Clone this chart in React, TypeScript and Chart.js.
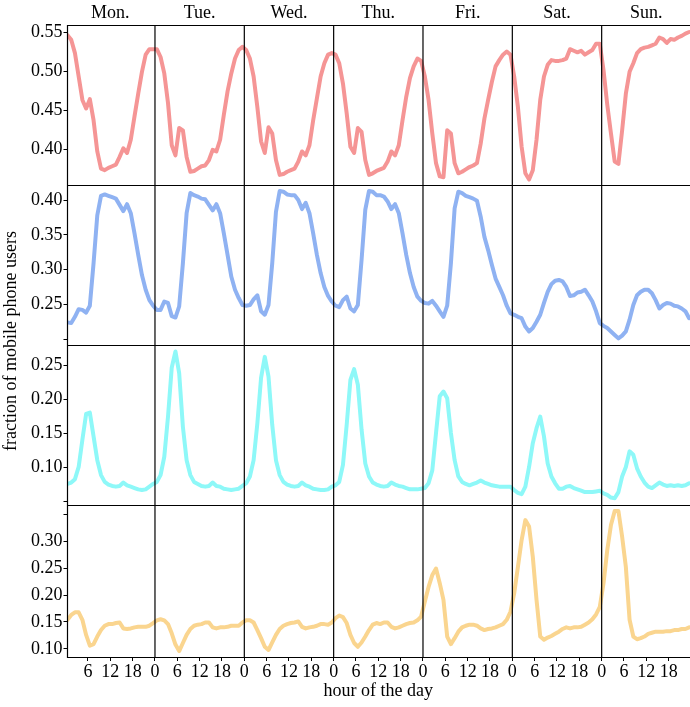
import React, { useEffect, useRef } from 'react';
import { Chart, registerables } from 'chart.js';

Chart.register(...registerables);

// ---------- data ----------
const DAYS = ['Mon.', 'Tue.', 'Wed.', 'Thu.', 'Fri.', 'Sat.', 'Sun.'];
const HOURS_PER_DAY = 24;
const N_HOURS = 168;

// x tick positions (hours since Monday 0:00); label = hour of day
const X_TICKS = [6, 12, 18, 24, 30, 36, 42, 48, 54, 60, 66, 72, 78, 84, 90, 96, 102, 108, 114, 120, 126, 132, 138, 144, 150, 156, 162];

// Row 1 (red)
const ROW1 = [
  0.546, 0.540, 0.523, 0.493, 0.463, 0.452, 0.464, 0.437, 0.397, 0.375, 0.373, 0.376, 0.378, 0.380, 0.390, 0.401, 0.395, 0.412, 0.442, 0.471, 0.499, 0.521, 0.528, 0.528,
  0.528, 0.518, 0.497, 0.459, 0.405, 0.392, 0.427, 0.424, 0.390, 0.371, 0.372, 0.375, 0.378, 0.379, 0.386, 0.399, 0.397, 0.412, 0.444, 0.474, 0.497, 0.516, 0.527, 0.531,
  0.527, 0.516, 0.493, 0.454, 0.410, 0.395, 0.428, 0.420, 0.386, 0.367, 0.368, 0.371, 0.373, 0.375, 0.384, 0.397, 0.392, 0.405, 0.437, 0.465, 0.493, 0.510, 0.521, 0.523,
  0.521, 0.510, 0.484, 0.446, 0.403, 0.395, 0.427, 0.422, 0.386, 0.367, 0.369, 0.372, 0.374, 0.376, 0.384, 0.397, 0.392, 0.405, 0.437, 0.467, 0.491, 0.506, 0.516, 0.513,
  0.493, 0.463, 0.420, 0.382, 0.365, 0.364, 0.424, 0.420, 0.382, 0.369, 0.371, 0.374, 0.377, 0.379, 0.382, 0.407, 0.439, 0.463, 0.486, 0.506, 0.514, 0.521, 0.525, 0.521,
  0.493, 0.454, 0.403, 0.369, 0.361, 0.373, 0.412, 0.463, 0.493, 0.508, 0.514, 0.513, 0.513, 0.514, 0.516, 0.528, 0.526, 0.524, 0.526, 0.521, 0.524, 0.527, 0.535, 0.535,
  0.501, 0.457, 0.420, 0.384, 0.381, 0.424, 0.471, 0.499, 0.510, 0.523, 0.528, 0.530, 0.531, 0.533, 0.535, 0.543, 0.541, 0.536, 0.541, 0.540, 0.543, 0.545, 0.548, 0.550,
];

// Row 2 (blue)
const ROW2 = [
  0.224, 0.223, 0.232, 0.243, 0.242, 0.238, 0.248, 0.309, 0.378, 0.406, 0.408, 0.406, 0.404, 0.402, 0.393, 0.384, 0.394, 0.381, 0.352, 0.321, 0.292, 0.271, 0.256, 0.248,
  0.242, 0.242, 0.254, 0.252, 0.233, 0.231, 0.247, 0.309, 0.381, 0.410, 0.407, 0.405, 0.402, 0.401, 0.393, 0.385, 0.394, 0.381, 0.352, 0.321, 0.290, 0.271, 0.259, 0.249,
  0.248, 0.249, 0.257, 0.263, 0.240, 0.235, 0.249, 0.309, 0.383, 0.413, 0.412, 0.408, 0.407, 0.407, 0.400, 0.387, 0.396, 0.381, 0.352, 0.321, 0.295, 0.275, 0.262, 0.254,
  0.248, 0.246, 0.256, 0.261, 0.244, 0.240, 0.249, 0.314, 0.386, 0.413, 0.412, 0.407, 0.407, 0.405, 0.398, 0.387, 0.394, 0.381, 0.352, 0.321, 0.295, 0.275, 0.261, 0.255,
  0.252, 0.251, 0.255, 0.248, 0.240, 0.232, 0.248, 0.309, 0.388, 0.412, 0.410, 0.406, 0.404, 0.402, 0.399, 0.376, 0.347, 0.328, 0.307, 0.287, 0.275, 0.263, 0.248, 0.237,
  0.235, 0.232, 0.230, 0.218, 0.211, 0.216, 0.225, 0.235, 0.252, 0.268, 0.279, 0.284, 0.285, 0.283, 0.275, 0.262, 0.263, 0.267, 0.268, 0.271, 0.263, 0.254, 0.240, 0.223,
  0.219, 0.216, 0.211, 0.206, 0.201, 0.205, 0.211, 0.228, 0.249, 0.263, 0.268, 0.271, 0.271, 0.266, 0.256, 0.244, 0.249, 0.252, 0.251, 0.248, 0.247, 0.244, 0.240, 0.230,
];

// Row 3 (cyan)
const ROW3 = [
  0.076, 0.078, 0.083, 0.101, 0.141, 0.179, 0.181, 0.146, 0.111, 0.089, 0.079, 0.075, 0.073, 0.072, 0.073, 0.078, 0.074, 0.072, 0.070, 0.068, 0.067, 0.068, 0.072, 0.076,
  0.079, 0.089, 0.116, 0.175, 0.247, 0.271, 0.239, 0.160, 0.111, 0.089, 0.079, 0.076, 0.073, 0.072, 0.073, 0.078, 0.073, 0.072, 0.069, 0.068, 0.067, 0.068, 0.069, 0.073,
  0.077, 0.087, 0.111, 0.165, 0.232, 0.263, 0.234, 0.163, 0.111, 0.089, 0.079, 0.075, 0.073, 0.072, 0.073, 0.078, 0.074, 0.072, 0.069, 0.068, 0.067, 0.067, 0.068, 0.072,
  0.074, 0.079, 0.104, 0.163, 0.229, 0.245, 0.222, 0.156, 0.106, 0.087, 0.078, 0.075, 0.073, 0.072, 0.073, 0.078, 0.075, 0.073, 0.072, 0.070, 0.068, 0.068, 0.068, 0.069,
  0.070, 0.077, 0.096, 0.151, 0.205, 0.212, 0.202, 0.151, 0.111, 0.087, 0.079, 0.076, 0.074, 0.076, 0.078, 0.081, 0.078, 0.076, 0.074, 0.073, 0.072, 0.072, 0.072, 0.072,
  0.067, 0.063, 0.061, 0.072, 0.101, 0.136, 0.158, 0.175, 0.146, 0.106, 0.087, 0.077, 0.069, 0.069, 0.072, 0.073, 0.070, 0.068, 0.066, 0.064, 0.064, 0.064, 0.065, 0.066,
  0.062, 0.060, 0.056, 0.055, 0.064, 0.087, 0.101, 0.124, 0.119, 0.099, 0.087, 0.078, 0.072, 0.070, 0.074, 0.078, 0.075, 0.073, 0.074, 0.073, 0.074, 0.073, 0.074, 0.077,
];

// Row 4 (orange)
const ROW4 = [
  0.154, 0.163, 0.168, 0.168, 0.154, 0.126, 0.106, 0.109, 0.123, 0.135, 0.143, 0.146, 0.146, 0.148, 0.149, 0.138, 0.137, 0.138, 0.140, 0.141, 0.141, 0.141, 0.143, 0.148,
  0.153, 0.155, 0.153, 0.146, 0.129, 0.108, 0.096, 0.111, 0.126, 0.137, 0.143, 0.145, 0.146, 0.149, 0.149, 0.140, 0.138, 0.140, 0.140, 0.141, 0.143, 0.143, 0.143, 0.149,
  0.153, 0.153, 0.149, 0.135, 0.120, 0.104, 0.098, 0.112, 0.126, 0.137, 0.143, 0.146, 0.148, 0.149, 0.151, 0.141, 0.138, 0.140, 0.141, 0.143, 0.146, 0.146, 0.145, 0.149,
  0.157, 0.162, 0.159, 0.148, 0.126, 0.111, 0.104, 0.112, 0.123, 0.135, 0.145, 0.148, 0.146, 0.149, 0.149, 0.141, 0.138, 0.140, 0.143, 0.146, 0.148, 0.149, 0.153, 0.160,
  0.188, 0.215, 0.237, 0.249, 0.222, 0.191, 0.123, 0.109, 0.120, 0.132, 0.140, 0.143, 0.145, 0.145, 0.143, 0.138, 0.135, 0.137, 0.138, 0.140, 0.143, 0.146, 0.154, 0.169,
  0.203, 0.252, 0.302, 0.339, 0.327, 0.271, 0.191, 0.123, 0.117, 0.121, 0.124, 0.128, 0.132, 0.137, 0.140, 0.138, 0.140, 0.140, 0.141, 0.145, 0.149, 0.155, 0.164, 0.178,
  0.222, 0.283, 0.330, 0.356, 0.356, 0.308, 0.252, 0.154, 0.123, 0.118, 0.120, 0.123, 0.128, 0.130, 0.132, 0.132, 0.132, 0.133, 0.133, 0.135, 0.135, 0.137, 0.137, 0.140,
];

// y ticks and labels per row
const Y1_TICKS = [0.40, 0.45, 0.50, 0.55];
const Y1_LABELS = ['0.40', '0.45', '0.50', '0.55'];
const Y2_TICKS = [0.20, 0.25, 0.30, 0.35, 0.40];
const Y2_LABELS = ['', '0.25', '0.30', '0.35', '0.40'];
const Y3_TICKS = [0.05, 0.10, 0.15, 0.20, 0.25];
const Y3_LABELS = ['', '0.10', '0.15', '0.20', '0.25'];
const Y4_TICKS = [0.10, 0.15, 0.20, 0.25, 0.30, 0.35];
const Y4_LABELS = ['0.10', '0.15', '0.20', '0.25', '0.30', ''];

// ---------- style ----------
const FONT_FAMILY = "'Liberation Serif', 'Times New Roman', serif";
const FONT_SIZE = 18;
const FONT = { family: FONT_FAMILY, size: FONT_SIZE };

const ROWS = [
  { id: 'y1', data: ROW1, color: '#f59595', min: 0.354, max: 0.559, ticks: Y1_TICKS, labels: Y1_LABELS, weight: 160 },
  { id: 'y2', data: ROW2, color: '#8fb2f2', min: 0.1915, max: 0.4216, ticks: Y2_TICKS, labels: Y2_LABELS, weight: 160 },
  { id: 'y3', data: ROW3, color: '#8ef8f8', min: 0.045, max: 0.2805, ticks: Y3_TICKS, labels: Y3_LABELS, weight: 160 },
  { id: 'y4', data: ROW4, color: '#fad58f', min: 0.085, max: 0.367, ticks: Y4_TICKS, labels: Y4_LABELS, weight: 152 },
];

const CANVAS_W = 694;
const CANVAS_H = 707;

function yScale(row: any) {
  return {
    type: 'linear',
    position: 'left',
    stack: 'rows',
    stackWeight: row.weight,
    min: row.min,
    max: row.max,
    afterBuildTicks: (s: any) => {
      s.ticks = row.ticks.map((v: number) => ({ value: v }));
    },
    afterFit: (s: any) => {
      s.width = 67.5;
    },
    ticks: {
      font: FONT,
      color: '#000',
      padding: 1,
      autoSkip: false,
      callback: (_v: any, i: number) => row.labels[i],
    },
    grid: { drawOnChartArea: false, drawTicks: true, tickLength: 4, color: '#000', lineWidth: 1 },
    border: { display: false },
  };
}

const framePlugin = {
  id: 'frame',
  afterDraw(chart: any) {
    const { ctx, chartArea } = chart;
    const xs = chart.scales.x;
    const left = chartArea.left;
    const right = chartArea.right;
    const top = chartArea.top;
    const bottom = chartArea.bottom;
    ctx.save();
    ctx.strokeStyle = '#000';
    ctx.lineWidth = 1.2;
    // day separators
    for (let d = 1; d < 7; d++) {
      const px = xs.getPixelForValue(d * HOURS_PER_DAY);
      ctx.beginPath();
      ctx.moveTo(px, top);
      ctx.lineTo(px, bottom);
      ctx.stroke();
    }
    // row separators
    for (let r = 1; r < ROWS.length; r++) {
      const s = chart.scales[ROWS[r].id];
      const py = s.top + 0.5;
      ctx.beginPath();
      ctx.moveTo(left, py);
      ctx.lineTo(right, py);
      ctx.stroke();
    }
    // outer frame
    ctx.beginPath();
    ctx.moveTo(left, top + 0.5);
    ctx.lineTo(right, top + 0.5);
    ctx.moveTo(left, bottom + 0.5);
    ctx.lineTo(right, bottom + 0.5);
    ctx.moveTo(left, top);
    ctx.lineTo(left, bottom + 1);
    ctx.moveTo(right, top);
    ctx.lineTo(right, bottom + 1);
    ctx.stroke();

    ctx.fillStyle = '#000';
    ctx.font = `${FONT_SIZE}px ${FONT_FAMILY}`;
    ctx.textAlign = 'center';
    ctx.textBaseline = 'middle';
    // day labels
    DAYS.forEach((d, i) => {
      const px = xs.getPixelForValue(i * HOURS_PER_DAY + HOURS_PER_DAY / 2);
      ctx.fillText(d, px, 13);
    });
    // x title
    ctx.fillText('hour of the day', (left + xs.getPixelForValue(N_HOURS)) / 2 - 1, 691);
    // y title
    ctx.save();
    ctx.translate(11, (top + bottom) / 2);
    ctx.rotate(-Math.PI / 2);
    ctx.fillText('fraction of mobile phone users', 0, 0);
    ctx.restore();
    ctx.restore();
  },
};

export default function App() {
  const ref = useRef<HTMLCanvasElement>(null);

  useEffect(() => {
    const canvas = ref.current;
    if (!canvas) return;
    const scales: any = {
      x: {
        type: 'linear',
        min: 0.5,
        max: N_HOURS,
        afterBuildTicks: (s: any) => {
          s.ticks = X_TICKS.map((v) => ({ value: v }));
        },
        afterFit: (s: any) => {
          s.height = 50;
        },
        ticks: {
          font: FONT,
          color: '#000',
          padding: 0,
          maxRotation: 0,
          autoSkip: false,
          callback: (v: any) => String(Math.round(Number(v)) % HOURS_PER_DAY),
        },
        grid: { drawOnChartArea: false, drawTicks: true, tickLength: 4, color: '#000', lineWidth: 1 },
        border: { display: false },
      },
    };
    // define bottom row first so the top row is placed on top of the stack
    [...ROWS].reverse().forEach((row) => {
      scales[row.id] = yScale(row);
    });

    const chart = new Chart(canvas, {
      type: 'line',
      data: {
        datasets: ROWS.map((row) => ({
          data: row.data.map((v, i) => ({ x: i + 0.5, y: v })),
          yAxisID: row.id,
          borderColor: row.color,
          borderWidth: 4,
          pointRadius: 0,
          tension: 0,
          fill: false,
          borderJoinStyle: 'round',
          borderCapStyle: 'round',
        })),
      },
      options: {
        responsive: false,
        animation: false,
        devicePixelRatio: 1,
        layout: { padding: { top: 25, right: 3, left: 0, bottom: 0 } },
        plugins: { legend: { display: false }, tooltip: { enabled: false } },
        scales,
      } as any,
      plugins: [framePlugin],
    } as any);
    return () => chart.destroy();
  }, []);

  return (
    <div
      style={{
        position: 'fixed',
        left: 0,
        top: 0,
        width: 690,
        height: CANVAS_H,
        overflow: 'hidden',
        background: '#fff',
      }}
    >
      <canvas
        ref={ref}
        width={CANVAS_W}
        height={CANVAS_H}
        style={{ display: 'block', width: CANVAS_W, height: CANVAS_H }}
      />
    </div>
  );
}
